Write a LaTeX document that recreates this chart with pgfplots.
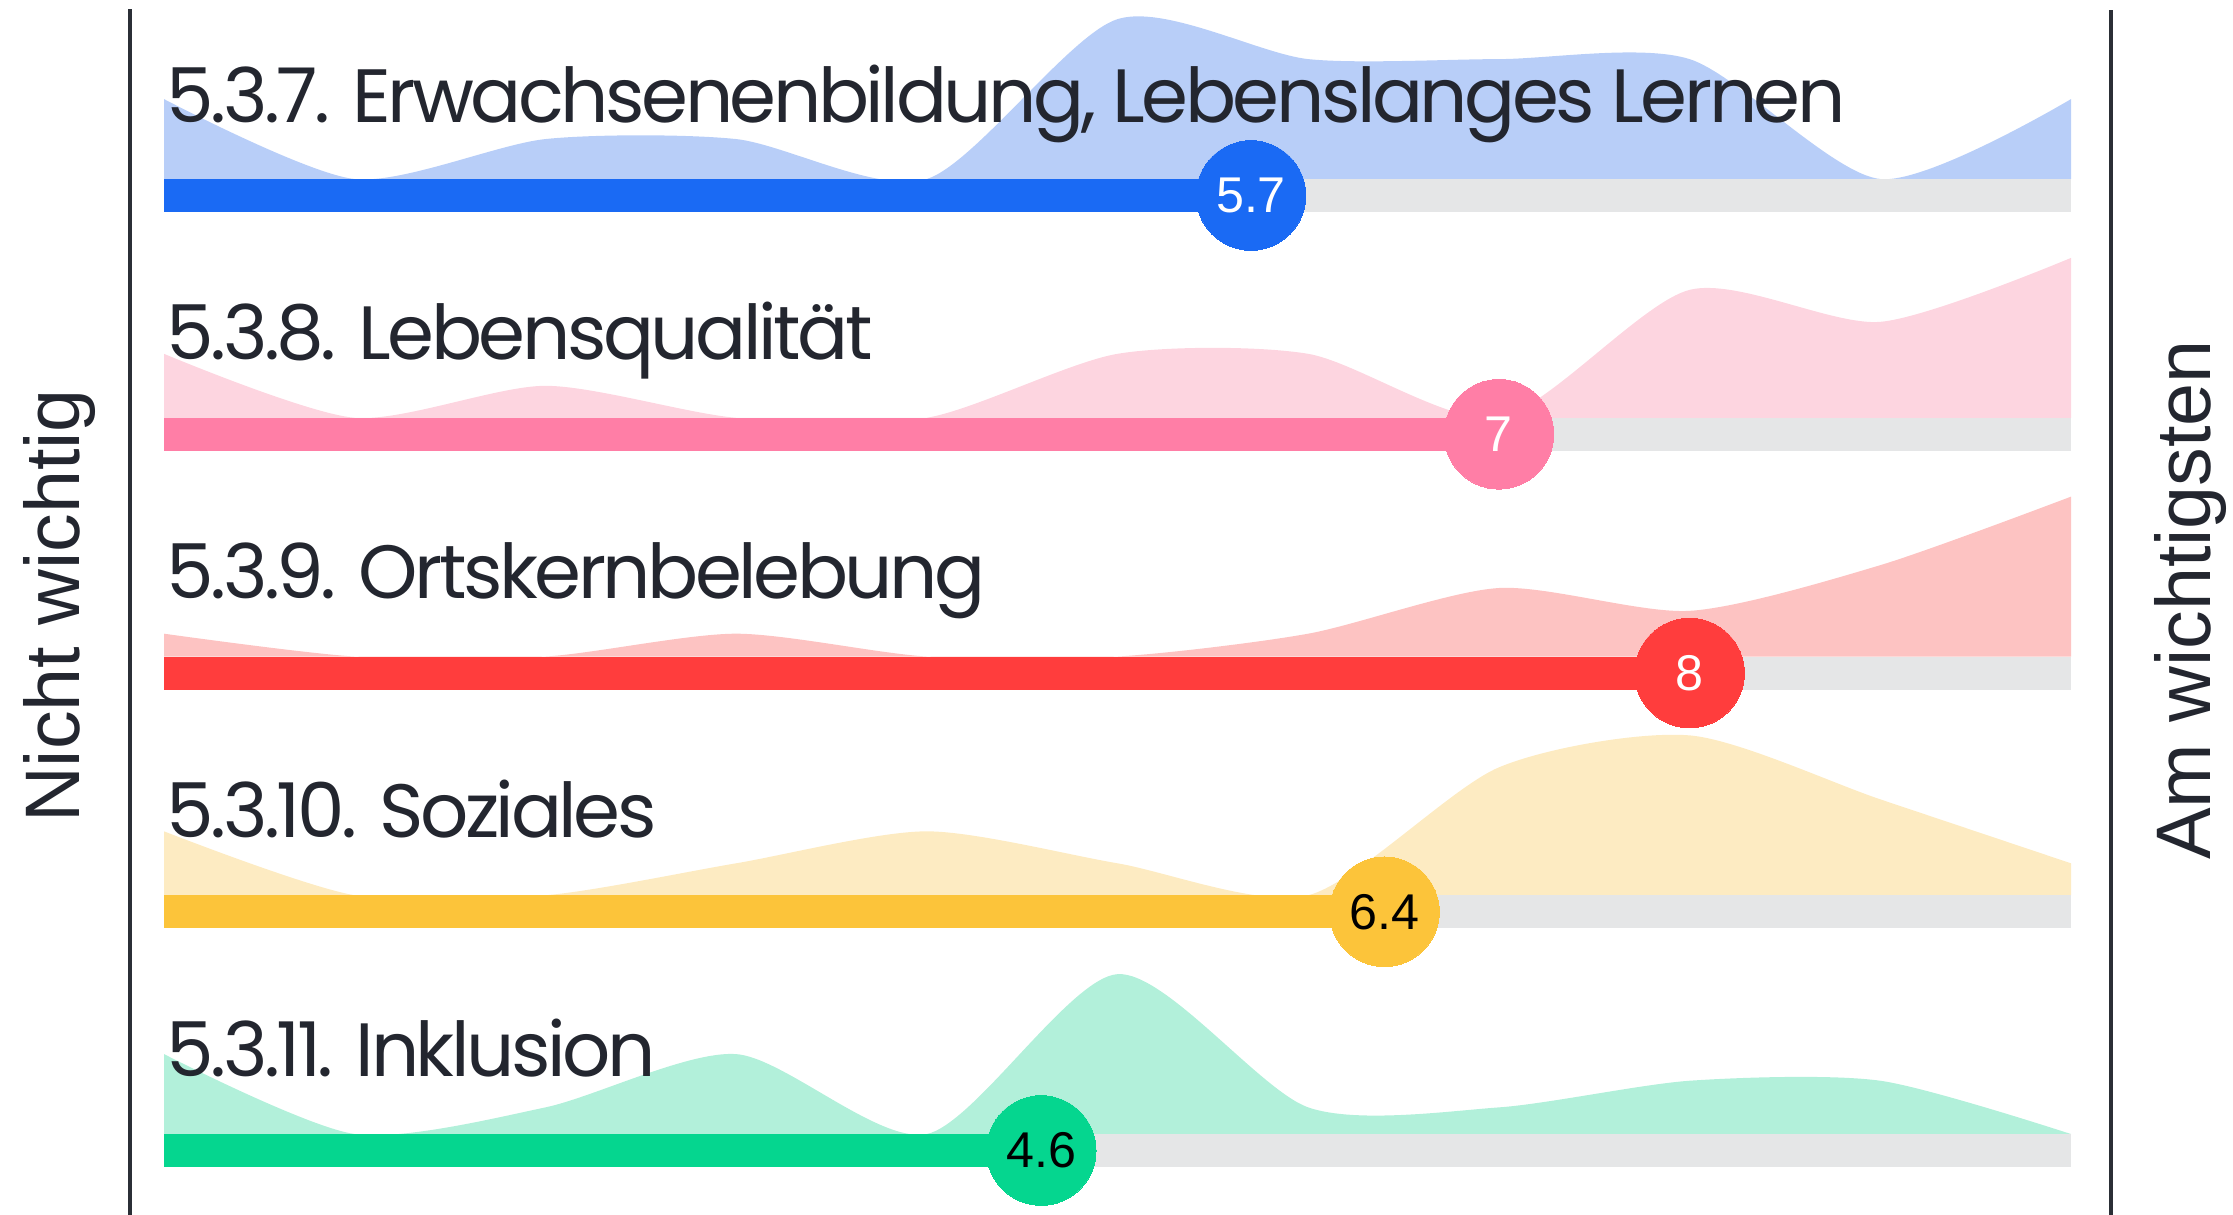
\documentclass[border=0pt]{standalone}
\usepackage{pgfplots}
\pgfplotsset{compat=1.18}
\usepackage{pgfplotstable}
\usepackage{fontspec}
\setmainfont{Poppins}[LetterSpace=-4.6]
\newfontfamily\arialf{Liberation Sans}

\definecolor{txt}{HTML}{23262F}
\definecolor{linec}{HTML}{2B2F36}
\definecolor{barbg}{HTML}{E5E6E7}
\definecolor{c1}{HTML}{1A6AF4}\definecolor{c1l}{HTML}{B8CEF8}
\definecolor{c2}{HTML}{FF7EA6}\definecolor{c2l}{HTML}{FDD5E0}
\definecolor{c3}{HTML}{FF3D3D}\definecolor{c3l}{HTML}{FDC3C2}
\definecolor{c4}{HTML}{FCC43A}\definecolor{c4l}{HTML}{FDEBC2}
\definecolor{c5}{HTML}{05D68F}\definecolor{c5l}{HTML}{B2F0DA}

% counts of answers per score 0..10 (n = 19 each)
\pgfplotstableread{
s  r1 r2 r3 r4 r5
0  2  2  1  2  3
1  0  0  0  0  0
2  1  1  0  0  1
3  1  0  1  1  3
4  0  0  0  2  0
5  4  2  0  1  6
6  3  2  1  0  1
7  3  0  3  4  1
8  3  4  2  5  2
9  0  3  4  3  2
10 2  5  7  1  0
}\dens

\newcommand\lab{\fontsize{21.5}{26}\selectfont}
\newcommand\num{\arialf\fontsize{14.3}{17}\selectfont}

\pgfplotsset{rowax/.style={x=1.907cm, y=0.01cm, xmin=-0.86, xmax=10.85,
  ymin=-80, ymax=175, hide axis, clip=false, anchor=south west},
  dot/.style={color=#1, only marks, mark=*, mark size=15.6pt,
  mark options={fill=#1, draw=#1, line width=0pt},
  point meta=explicit symbolic, nodes near coords, nodes near coords align=center},
  dens/.style={fill=#1, draw=none, smooth, tension=0.45}}

\begin{document}
\begin{tikzpicture}
% ---- row 1
\begin{axis}[rowax, at={(0cm,9.56cm)}]
\addplot[dens=c1l] table[x=s, y expr=\thisrow{r1}*40] {\dens} \closedcycle;
\addplot[fill=barbg, draw=none] coordinates {(0,-33) (10,-33) (10,0) (0,0)};
\addplot[fill=c1, draw=none] coordinates {(0,-33) (5.7,-33) (5.7,0) (0,0)};
\node[anchor=base west, inner sep=0pt, text=txt, font=\lab] at (axis cs:0.01,57) {5.3.7. Erwachsenenbildung, Lebenslanges Lernen};
\addplot[dot=c1, every node near coord/.append style={font=\num, text=white, inner sep=0pt}]
  coordinates {(5.7,-16.5) [5.7]};
\end{axis}
% ---- row 2
\begin{axis}[rowax, at={(0cm,7.1725cm)}]
\addplot[dens=c2l] table[x=s, y expr=\thisrow{r2}*32] {\dens} \closedcycle;
\addplot[fill=barbg, draw=none] coordinates {(0,-33) (10,-33) (10,0) (0,0)};
\addplot[fill=c2, draw=none] coordinates {(0,-33) (7,-33) (7,0) (0,0)};
\node[anchor=base west, inner sep=0pt, text=txt, font=\lab] at (axis cs:0.01,58) {5.3.8. Lebensqualität};
\addplot[dot=c2, every node near coord/.append style={font=\num, text=white, inner sep=0pt}]
  coordinates {(7,-16.5) [7]};
\end{axis}
% ---- row 3
\begin{axis}[rowax, at={(0cm,4.785cm)}]
\addplot[dens=c3l] table[x=s, y expr=\thisrow{r3}*160/7] {\dens} \closedcycle;
\addplot[fill=barbg, draw=none] coordinates {(0,-33) (10,-33) (10,0) (0,0)};
\addplot[fill=c3, draw=none] coordinates {(0,-33) (8,-33) (8,0) (0,0)};
\node[anchor=base west, inner sep=0pt, text=txt, font=\lab] at (axis cs:0.01,58) {5.3.9. Ortskernbelebung};
\addplot[dot=c3, every node near coord/.append style={font=\num, text=white, inner sep=0pt}]
  coordinates {(8,-16.5) [8]};
\end{axis}
% ---- row 4
\begin{axis}[rowax, at={(0cm,2.3975cm)}]
\addplot[dens=c4l] table[x=s, y expr=\thisrow{r4}*32] {\dens} \closedcycle;
\addplot[fill=barbg, draw=none] coordinates {(0,-33) (10,-33) (10,0) (0,0)};
\addplot[fill=c4, draw=none] coordinates {(0,-33) (6.4,-33) (6.4,0) (0,0)};
\node[anchor=base west, inner sep=0pt, text=txt, font=\lab] at (axis cs:0.01,58) {5.3.10. Soziales};
\addplot[dot=c4, every node near coord/.append style={font=\num, text=black, inner sep=0pt}]
  coordinates {(6.4,-16.5) [6.4]};
\end{axis}
% ---- row 5
\begin{axis}[rowax, at={(0cm,0.01cm)}]
\addplot[dens=c5l] table[x=s, y expr=\thisrow{r5}*160/6] {\dens} \closedcycle;
\addplot[fill=barbg, draw=none] coordinates {(0,-33) (10,-33) (10,0) (0,0)};
\addplot[fill=c5, draw=none] coordinates {(0,-33) (4.6,-33) (4.6,0) (0,0)};
\node[anchor=base west, inner sep=0pt, text=txt, font=\lab] at (axis cs:0.01,58) {5.3.11. Inklusion};
\addplot[dot=c5, every node near coord/.append style={font=\num, text=black, inner sep=0pt}]
  coordinates {(4.6,-16.5) [4.6]};
\end{axis}
% side lines and labels
\draw[line width=1.15pt, linec] (1.303cm,0) -- (1.303cm,12.06cm);
\draw[line width=1.15pt, linec] (21.106cm,0) -- (21.106cm,12.05cm);
\node[rotate=90, anchor=base, inner sep=0pt, text=txt, font=\arialf\fontsize{22}{26}\selectfont] at (0.80cm,6.09cm) {Nicht wichtig};
\node[rotate=90, anchor=base, inner sep=0pt, text=txt, font=\arialf\fontsize{22}{26}\selectfont] at (22.10cm,6.15cm) {Am wichtigsten};
\pgfresetboundingbox
\path[use as bounding box] (0,0) rectangle (22.33cm,12.15cm);
\end{tikzpicture}
\end{document}
